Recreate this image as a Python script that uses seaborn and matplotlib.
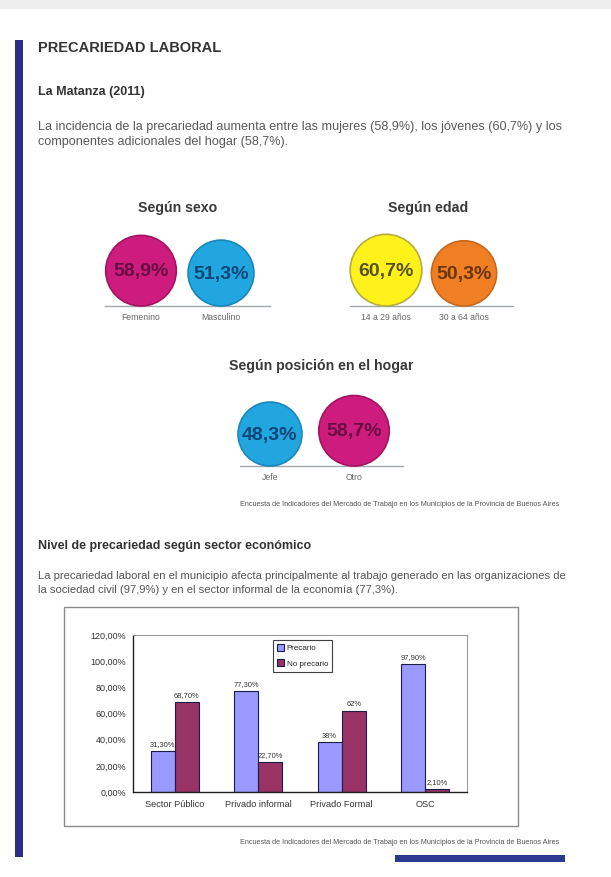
import numpy as np
import pandas as pd
import matplotlib.pyplot as plt
from matplotlib.patches import Circle, Rectangle
import seaborn as sns

# Data
sexo_labels = ['Femenino', 'Masculino']
sexo_values = [58.9, 51.3]
edad_labels = ['14 a 29 años', '30 a 64 años']
edad_values = [60.7, 50.3]
hogar_labels = ['Jefe', 'Otro']
hogar_values = [48.3, 58.7]

sectores = ['Sector Público', 'Privado informal', 'Privado Formal', 'OSC']
precario = [31.3, 77.3, 38.0, 97.9]
no_precario = [68.7, 22.7, 62.0, 2.1]
precario_txt = ['31,30%', '77,30%', '38%', '97,90%']
no_precario_txt = ['68,70%', '22,70%', '62%', '2,10%']
y_ticks = [0, 20, 40, 60, 80, 100, 120]

fuente = ('Encuesta de Indicadores del Mercado de Trabajo en los Municipios '
          'de la Provincia de Buenos Aires')

# Colours (fill, edge, text)
magenta = ('#CD1C7D', '#A3135F', '#6A0C44')
cyan = ('#21A6E0', '#1A86B9', '#0D4776')
yellow = ('#FFF21A', '#B7AC3C', '#55501F')
orange = ('#F07F24', '#C7681E', '#6A3512')

sns.set_theme(style='white')
plt.rcParams['font.family'] = ['Liberation Sans', 'DejaVu Sans']

W, H = 611, 877
fig = plt.figure(figsize=(W / 100, H / 100), dpi=100)
fig.patch.set_facecolor('white')

# Page axes in pixel units
page = fig.add_axes([0, 0, 1, 1])
page.set_xlim(0, W)
page.set_ylim(H, 0)
page.axis('off')

# Page decorations
page.add_patch(Rectangle((0, 0), W, 9, color='#EEEEEE', lw=0))
page.add_patch(Rectangle((15, 40), 8, 817, color='#2B2E83', lw=0))
page.add_patch(Rectangle((395, 855), 170, 7, color='#2B3990', lw=0))

# Header texts
page.text(38, 48, 'PRECARIEDAD LABORAL', fontsize=10.5, fontweight='bold',
          color='#333333', va='center')
page.text(38, 92, 'La Matanza (2011)', fontsize=9, fontweight='bold',
          color='#333333', va='center')
page.text(38, 127, 'La incidencia de la precariedad aumenta entre las mujeres '
          '(58,9%), los jóvenes (60,7%) y los', fontsize=9.1, color='#5A5A5A',
          va='center')
page.text(38, 142, 'componentes adicionales del hogar (58,7%).', fontsize=9.1,
          color='#5A5A5A', va='center')

# Bubble groups
bubble_groups = [
    ('Según sexo', sexo_labels, sexo_values, [magenta, cyan]),
    ('Según edad', edad_labels, edad_values, [yellow, orange]),
    ('Según posición en el hogar', hogar_labels, hogar_values, [cyan, magenta]),
]
# layout: first center x, spacing, baseline y, line start, line end, title x, title y
bubble_layout = [
    (141, 80, 306, 105, 270, 178, 208),
    (386, 78, 306, 350, 513, 428, 208),
    (270, 84, 466, 240, 403, 321, 366),
]
k = 4.6  # radius per sqrt(value)

for (title, labels, values, cols), (x0, dx, base, l0, l1, tx, ty) in zip(
        bubble_groups, bubble_layout):
    page.text(tx, ty, title, fontsize=10.2, fontweight='bold', color='#3A3A3A',
              ha='center', va='center')
    page.plot([l0, l1], [base, base], color='#A0A8B0', lw=1, zorder=1)
    for i, (lab, v, c) in enumerate(zip(labels, values, cols)):
        r = k * np.sqrt(v)
        cx = x0 + i * dx
        cy = base - r
        page.add_patch(Circle((cx, cy), r, facecolor=c[0], edgecolor=c[1],
                              lw=1.2, zorder=2))
        page.text(cx, cy + 1, f'{v:.1f}%'.replace('.', ','), fontsize=14,
                  fontweight='bold', color=c[2], ha='center', va='center',
                  zorder=3)
        page.text(cx, base + 11, lab, fontsize=6.2, color='#666666',
                  ha='center', va='center')

page.text(400, 505, fuente, fontsize=5.2, color='#555555', ha='center',
          va='center')

# Second section
page.text(38, 546, 'Nivel de precariedad según sector económico', fontsize=9,
          fontweight='bold', color='#333333', va='center')
page.text(38, 576, 'La precariedad laboral en el municipio afecta principalmente '
          'al trabajo generado en las organizaciones de', fontsize=8.1,
          color='#555555', va='center')
page.text(38, 590, 'la sociedad civil (97,9%) y en el sector informal de la '
          'economía (77,3%).', fontsize=8.1, color='#555555', va='center')

# Chart frame
page.add_patch(Rectangle((64, 607), 454, 219, facecolor='none',
                         edgecolor='#8A8A8A', lw=1))
page.text(400, 843, fuente, fontsize=5.2, color='#555555', ha='center',
          va='center')

# Bar chart
ax = fig.add_axes([133 / W, 1 - 792 / H, (467 - 133) / W, (792 - 635) / H])
df = pd.DataFrame({
    'sector': sectores * 2,
    'valor': precario + no_precario,
    'tipo': ['Precario'] * 4 + ['No precario'] * 4,
})
sns.barplot(data=df, x='sector', y='valor', hue='tipo',
            palette=['#9999FF', '#993366'], width=0.58, edgecolor='#1C1C48',
            linewidth=0.8, saturation=1, ax=ax)

ax.bar_label(ax.containers[0], labels=precario_txt, fontsize=5.4, padding=2,
             color='#333333')
ax.bar_label(ax.containers[1], labels=no_precario_txt, fontsize=5.4, padding=2,
             color='#333333')

ax.set_ylim(0, 120)
ax.set_xlim(-0.5, 3.5)
ax.set_yticks(y_ticks)
ax.set_yticklabels([f'{t},00%' for t in y_ticks], fontsize=6.5, color='#333333')
ax.set_xticks(range(len(sectores)))
ax.set_xticklabels(sectores, fontsize=6.6, color='#333333')
ax.set_xticks([0.5, 1.5, 2.5, 3.5], minor=True)
ax.tick_params(axis='x', which='major', length=0, pad=6)
ax.tick_params(axis='x', which='minor', length=4, direction='inout',
               width=0.8, color='#222222')
ax.tick_params(axis='y', length=4, direction='inout', width=0.8,
               color='#222222', pad=3)
ax.set_xlabel('')
ax.set_ylabel('')
for side in ['left', 'bottom']:
    ax.spines[side].set_color('#222222')
    ax.spines[side].set_linewidth(1)
for side in ['top', 'right']:
    ax.spines[side].set_color('#9A9A9A')
    ax.spines[side].set_linewidth(0.8)

leg = ax.legend(loc='upper left', bbox_to_anchor=(0.419, 0.968), fontsize=5.8,
                frameon=True, fancybox=False, edgecolor='#111111',
                handlelength=0.9, handleheight=0.9, handletextpad=0.3,
                borderpad=0.5, labelspacing=0.9, borderaxespad=0)
leg.get_frame().set_linewidth(0.8)

fig.savefig('out.png', dpi=100, facecolor='white')
